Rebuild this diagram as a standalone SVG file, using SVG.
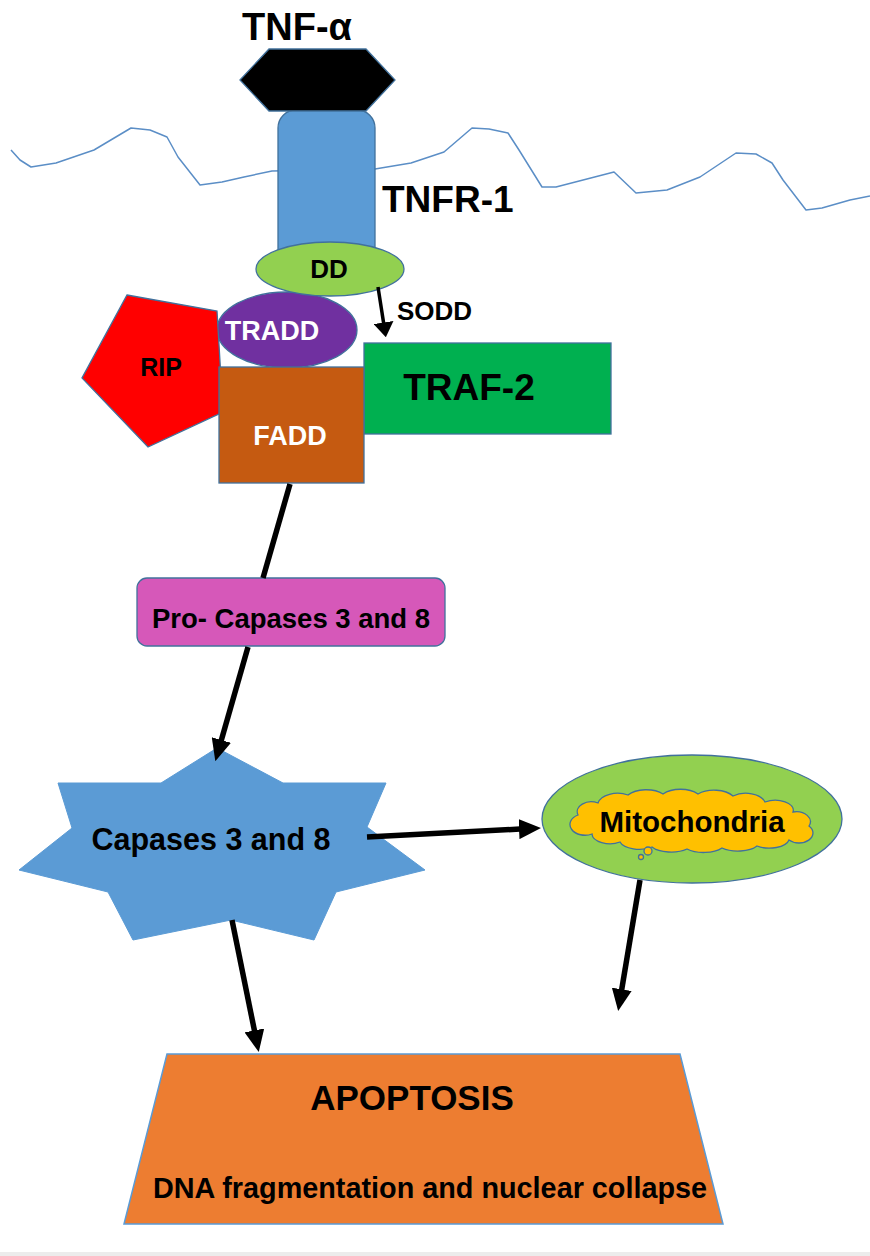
<svg xmlns="http://www.w3.org/2000/svg" width="870" height="1256" viewBox="0 0 870 1256">
<style>
text{font-family:"Liberation Sans",Arial,sans-serif;font-weight:bold;fill:#000;}
.c{text-anchor:middle;}
.w{fill:#fff;}
.ed{stroke:#41719c;stroke-width:1.3;}
.arr{stroke:#000;stroke-width:5.5;fill:none;}
</style>
<defs>
<marker id="ah" viewBox="0 0 22 20" refX="1" refY="10" markerWidth="22" markerHeight="20" markerUnits="userSpaceOnUse" orient="auto">
<path d="M0,0 L22,10 L0,20 Z" fill="#000"/>
</marker>
<marker id="ahs" viewBox="0 0 15 20" refX="1" refY="10" markerWidth="15" markerHeight="20" markerUnits="userSpaceOnUse" orient="auto">
<path d="M0,0 L15,10 L0,20 Z" fill="#000"/>
</marker>
</defs>
<rect x="0" y="0" width="870" height="1256" fill="#fff"/>
<rect x="0" y="1252" width="870" height="4" fill="#ececec"/>
<g id="membrane">
<polyline fill="none" stroke="#5b8ec6" stroke-width="1.5" stroke-linejoin="round" points="11,150 20,160 31,167 56,163 94,150 131,128 150,130 167,137 178,157 200,185 222,182 244,177 272,171 375,169 411,163 444,152 472,128 489,129 508,133 519,150 542,187 556,187 614,172 636,193 667,190 700,177 736,153 756,154 772,163 783,180 806,210 822,208 850,200 870,196"/>
</g>
<g id="tnfr1">
<rect class="ed" x="278" y="110" width="97" height="160" rx="18" fill="#5b9bd5"/>
<text x="382" y="212" font-size="37">TNFR-1</text>
</g>
<g id="tnf-alpha">
<polygon class="ed" points="240,80 269,49 366,49 395,80 366,111 269,111" fill="#000"/>
<text class="c" x="297" y="40" font-size="38">TNF-α</text>
</g>
<g id="tradd">
<ellipse class="ed" cx="287" cy="330" rx="70" ry="38" fill="#7030a0"/>
<text class="c w" x="272" y="340" font-size="27">TRADD</text>
</g>
<g id="dd">
<ellipse class="ed" cx="330" cy="269" rx="74" ry="27" fill="#92d050"/>
<text class="c" x="329" y="278" font-size="26">DD</text>
</g>
<g id="rip">
<polygon class="ed" points="127,295 217,311 223,412 148,447 82,378" fill="#ff0000"/>
<text class="c" x="161" y="376" font-size="25">RIP</text>
</g>
<g id="traf2">
<rect class="ed" x="364" y="343" width="247" height="91" fill="#00b050"/>
<text class="c" x="469" y="400" font-size="37">TRAF-2</text>
</g>
<g id="fadd">
<rect class="ed" x="219" y="367" width="145" height="116" fill="#c55a11"/>
<text class="c w" x="290" y="445" font-size="27">FADD</text>
</g>
<g id="sodd">
<text x="397" y="320" font-size="26">SODD</text>
</g>
<g id="procaspases">
<rect class="ed" x="137" y="578" width="308" height="68" rx="10" fill="#d658b9"/>
<text class="c" x="291" y="628" font-size="27.5">Pro- Capases 3 and 8</text>
</g>
<g id="caspases">
<polygon points="217,748 283,783 386,783 367,827 425,870 336,892 314,940 231,920 133,940 108,892 19,870 72,828 58,783 161,783" fill="#5b9bd5" stroke="#5b9bd5" stroke-width="1"/>
<text class="c" x="211" y="850" font-size="30.5">Capases 3 and 8</text>
</g>
<g id="mitochondria">
<ellipse class="ed" cx="692" cy="819" rx="150" ry="64" fill="#92d050"/>
<path class="ed" fill="#ffc000" d="M578,815 a14,10 0 0 1 20,-12 a20,12 0 0 1 30,-8 a22,12 0 0 1 35,-1 a22,12 0 0 1 35,0 a22,12 0 0 1 35,2 a20,12 0 0 1 32,6 a18,10 0 0 1 28,10 a14,10 0 0 1 16,14 a14,10 0 0 1 -20,14 a20,10 0 0 1 -32,6 a22,10 0 0 1 -35,2 a22,10 0 0 1 -35,1 a22,10 0 0 1 -35,-2 a20,10 0 0 1 -32,-5 a18,10 0 0 1 -28,-8 a14,10 0 0 1 -14,-19 Z"/>
<circle class="ed" cx="648" cy="851" r="4" fill="#ffc000"/>
<circle class="ed" cx="641" cy="857" r="2.5" fill="#ffc000"/>
<text class="c" x="692" y="832" font-size="29.5">Mitochondria</text>
</g>
<g id="apoptosis">
<polygon points="167,1054 680,1054 723,1224 124,1224" fill="#ed7d31" stroke="#5b9bd5" stroke-width="1.5"/>
<text class="c" x="412" y="1110" font-size="35">APOPTOSIS</text>
<text class="c" x="430" y="1198" font-size="28.8">DNA fragmentation and nuclear collapse</text>
</g>
<g id="connectors">
<line x1="378" y1="287" x2="383.7" y2="323.5" stroke="#000" stroke-width="3.5" marker-end="url(#ahs)"/>
<line class="arr" x1="290" y1="484" x2="263" y2="578"/>
<line class="arr" x1="248" y1="647" x2="221.1" y2="741" marker-end="url(#ah)"/>
<line class="arr" x1="367" y1="837" x2="520" y2="829.1" marker-end="url(#ah)"/>
<line class="arr" x1="232" y1="920" x2="254.6" y2="1031.4" marker-end="url(#ah)"/>
<line class="arr" x1="640" y1="880" x2="621.6" y2="990.3" marker-end="url(#ah)"/>
</g>
</svg>
